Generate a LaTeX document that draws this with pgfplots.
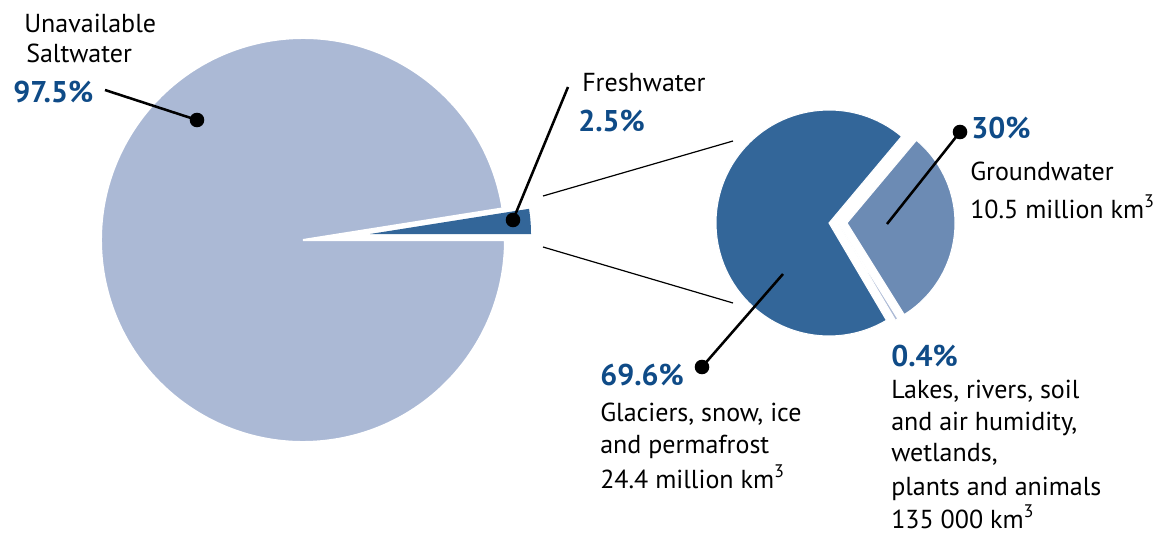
\documentclass[border=0pt]{standalone}
\usepackage{pgfplots}
\pgfplotsset{compat=1.18}
\usepackage{fontspec}
\setmainfont{PT Sans}
\definecolor{salt}{RGB}{171,185,213}
\definecolor{glac}{RGB}{51,102,153}
\definecolor{ground}{RGB}{108,139,180}
\definecolor{pct}{RGB}{15,75,135}
% shares in percent
\def\saltw{97.5}
\def\fresh{2.5}
\def\glacier{69.6}
\def\groundw{30}
\def\lakes{0.4}
% angles derived from the shares
\pgfmathsetmacro\fa{3.6*\fresh}
\pgfmathsetmacro\gs{50}
\pgfmathsetmacro\ge{\gs+3.6*\glacier}
\pgfmathsetmacro\le{\ge+3.6*\lakes}
\pgfmathsetmacro\grE{\le+3.6*\groundw}
\newcommand\txt{\fontsize{19.5}{23}\selectfont}
\newcommand\pc{\fontsize{22.5}{26}\selectfont\bfseries\color{pct}}
\begin{document}
\begin{tikzpicture}
\begin{axis}[hide axis, scale only axis, width=873pt, height=401.25pt,
  xmin=0, xmax=1164, ymin=0, ymax=535, y dir=reverse, clip=false]
% big pie: saltwater
\fill[salt, draw=white, line width=1.5pt] (axis cs:303,240) -- ++(\fa:151.5pt) arc[start angle=\fa, end angle=360, radius=151.5pt] -- cycle;
% freshwater wedge (exploded)
\fill[glac] (axis cs:370,234) -- ++(0:120.75pt) arc[start angle=0, end angle=\fa, radius=120.75pt] -- cycle;
% small pie
\fill[glac, draw=white, line width=0.8pt] (axis cs:829,223) -- ++(\gs:84.75pt) arc[start angle=\gs, end angle=\ge, radius=84.75pt] -- cycle;
\fill[salt, draw=white, line width=0.8pt] (axis cs:838,223) -- ++(\ge:84.75pt) arc[start angle=\ge, end angle=\le, radius=84.75pt] -- cycle;
\fill[ground, draw=white, line width=0.8pt] (axis cs:847,223) -- ++(\le:81pt) arc[start angle=\le, end angle=\grE, radius=81pt] -- cycle;
% connection lines
\addplot[black, line width=0.9pt] coordinates {(543,196) (733,141)};
\addplot[black, line width=0.9pt] coordinates {(543,247) (733,303)};
% leader lines
\addplot[black, line width=1.9pt, mark=*, mark size=4.5pt, mark indices={2}] coordinates {(105,90) (197,120)};
\addplot[black, line width=1.9pt, mark=*, mark size=4.5pt, mark indices={2}] coordinates {(568,87) (513,220)};
\addplot[black, line width=1.9pt, mark=*, mark size=4.5pt, mark indices={2}] coordinates {(887,224) (960,132)};
\addplot[black, line width=1.9pt, mark=*, mark size=4.5pt, mark indices={2}] coordinates {(783,274) (702,367)};
% labels
\node[anchor=base west, inner sep=0pt, font=\txt] at (axis cs:24,33) {Unavailable};
\node[anchor=base west, inner sep=0pt, font=\txt] at (axis cs:26,63) {Saltwater};
\node[anchor=base west, inner sep=0pt, font=\pc] at (axis cs:13,103) {97.5\%};
\node[anchor=base west, inner sep=0pt, font=\txt] at (axis cs:582,92) {Freshwater};
\node[anchor=base west, inner sep=0pt, font=\pc] at (axis cs:578,132) {2.5\%};
\node[anchor=base west, inner sep=0pt, font=\pc] at (axis cs:971,138) {30\%};
\node[anchor=base west, inner sep=0pt, font=\txt] at (axis cs:970,180) {Groundwater};
\node[anchor=base west, inner sep=0pt, font=\txt] at (axis cs:970,218) {10.5 million km\textsuperscript{3}};
\node[anchor=base west, inner sep=0pt, font=\pc] at (axis cs:600,385) {69.6\%};
\node[anchor=base west, inner sep=0pt, font=\txt] at (axis cs:600,421) {Glaciers, snow, ice};
\node[anchor=base west, inner sep=0pt, font=\txt] at (axis cs:600,453) {and permafrost};
\node[anchor=base west, inner sep=0pt, font=\txt] at (axis cs:600,488) {24.4 million km\textsuperscript{3}};
\node[anchor=base west, inner sep=0pt, font=\pc] at (axis cs:891,366) {0.4\%};
\node[anchor=base west, inner sep=0pt, font=\txt] at (axis cs:891,398) {Lakes, rivers, soil};
\node[anchor=base west, inner sep=0pt, font=\txt] at (axis cs:891,430) {and air humidity,};
\node[anchor=base west, inner sep=0pt, font=\txt] at (axis cs:891,461) {wetlands,};
\node[anchor=base west, inner sep=0pt, font=\txt] at (axis cs:891,495) {plants and animals};
\node[anchor=base west, inner sep=0pt, font=\txt] at (axis cs:891,528) {135 000 km\textsuperscript{3}};
\end{axis}
\pgfresetboundingbox
\useasboundingbox (current axis.south west) rectangle (current axis.north east);
\end{tikzpicture}
\end{document}
